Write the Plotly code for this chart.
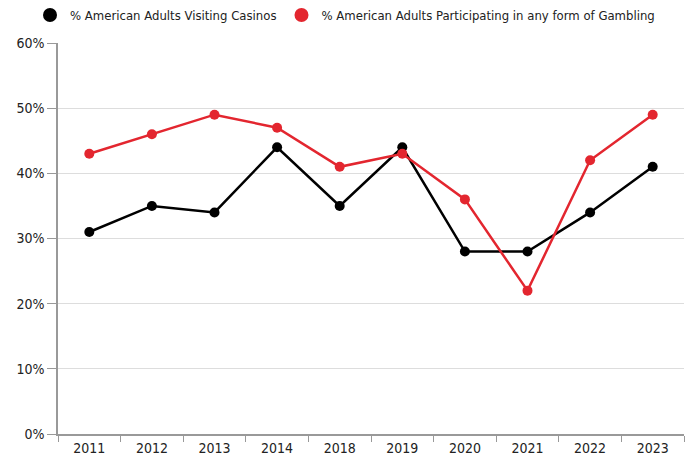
import plotly.graph_objects as go

years = ["2011", "2012", "2013", "2014", "2018", "2019", "2020", "2021", "2022", "2023"]
casinos = [31, 35, 34, 44, 35, 44, 28, 28, 34, 41]
gambling = [43, 46, 49, 47, 41, 43, 36, 22, 42, 49]
y_ticks = [0, 10, 20, 30, 40, 50, 60]
y_labels = [f"{v}%" for v in y_ticks]
names = ["% American Adults Visiting Casinos",
         "% American Adults Participating in any form of Gambling"]
colors = ["#000000", "#e3262f"]

FONT = "DejaVu Sans Condensed"
tick_font = dict(family=FONT, size=14, color="#222222")
leg_font = dict(family=FONT, size=13, color="#222222")

fig = go.Figure()
for vals, name, col in zip([casinos, gambling], names, colors):
    fig.add_trace(go.Scatter(x=years, y=vals, mode="lines+markers", name=name,
                             showlegend=False,
                             line=dict(color=col, width=2.5),
                             marker=dict(size=10, color=col)))
for name, col in zip(names, colors):
    fig.add_trace(go.Scatter(x=[None], y=[None], mode="markers", name=name,
                             marker=dict(size=14, color=col)))

fig.update_layout(
    width=690, height=461,
    margin=dict(l=58, r=6, t=43, b=27, autoexpand=False),
    plot_bgcolor="white", paper_bgcolor="white",
    font=tick_font,
    showlegend=True,
    legend=dict(orientation="h", xref="container", x=0.5, xanchor="center",
                yref="container", y=1.0, yanchor="top",
                font=leg_font, itemwidth=30, tracegroupgap=0),
)
fig.update_xaxes(type="category", tickson="boundaries", ticks="outside", ticklen=6,
                 tickcolor="#999999", showline=True, linecolor="#999999", linewidth=1.5,
                 showgrid=False, range=[-0.5, 9.5], tickfont=tick_font, automargin=False)
fig.update_yaxes(range=[0, 60], tickvals=y_ticks, ticktext=y_labels, ticks="outside",
                 ticklen=9, tickcolor="#999999", showline=True, linecolor="#999999",
                 linewidth=1.5, showgrid=True, gridcolor="#dddddd", gridwidth=1,
                 zeroline=False, tickfont=tick_font, automargin=False)

fig.write_html("out.html",
               config={"displayModeBar": False},
               post_script="document.body.style.margin='0';document.body.style.overflow='hidden';")
